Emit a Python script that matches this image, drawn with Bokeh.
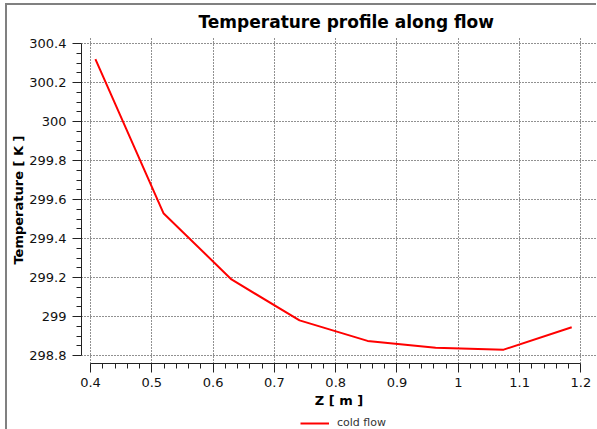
from bokeh.plotting import figure
from bokeh.layouts import column
from bokeh.models import FixedTicker, Legend, LegendItem, Range1d
from bokeh.embed import file_html
from bokeh.resources import INLINE

# ---- data ----
z_m = [0.408, 0.519, 0.630, 0.741, 0.852, 0.963, 1.074, 1.185]
temperature_k = [300.32, 299.53, 299.19, 298.98, 298.875, 298.84, 298.83, 298.945]
series_name = "cold flow"

x_ticks = [0.4, 0.5, 0.6, 0.7, 0.8, 0.9, 1.0, 1.1, 1.2]
x_tick_labels = ["0.4", "0.5", "0.6", "0.7", "0.8", "0.9", "1", "1.1", "1.2"]
y_ticks = [298.8, 299.0, 299.2, 299.4, 299.6, 299.8, 300.0, 300.2, 300.4]
y_tick_labels = ["298.8", "299", "299.2", "299.4", "299.6", "299.8", "300", "300.2", "300.4"]


def minors(ticks, n):
    out = []
    for a, b in zip(ticks[:-1], ticks[1:]):
        for k in range(1, n):
            out.append(a + (b - a) * k / n)
    return out


FONT = "DejaVu Sans"
TXT = "#111111"
RED = "#ff0000"

p = figure(width=589, height=412, output_backend="svg", toolbar_location=None,
           x_range=Range1d(0.38532, 1.22545), y_range=Range1d(298.759, 300.436),
           min_border_left=74, min_border_right=0, min_border_top=31, min_border_bottom=54,
           title="Temperature profile along flow",
           x_axis_label="Z [ m ]", y_axis_label="Temperature [ K ]")

p.outline_line_color = None
p.background_fill_color = "white"
p.border_fill_color = "white"

p.title.align = "left"
p.title.offset = 117
p.title.text_font = FONT
p.title.text_font_size = "17px"
p.title.text_font_style = "bold"
p.title.text_color = "#000000"
p.title.standoff = 9

xa = p.xaxis[0]
ya = p.yaxis[0]
xa.ticker = FixedTicker(ticks=x_ticks, minor_ticks=minors(x_ticks, 5))
ya.ticker = FixedTicker(ticks=y_ticks, minor_ticks=minors(y_ticks, 4))
xa.major_label_overrides = dict(zip(x_ticks, x_tick_labels))
ya.major_label_overrides = dict(zip(y_ticks, y_tick_labels))
xa.bounds = (x_ticks[0], x_ticks[-1])
ya.bounds = (y_ticks[0], y_ticks[-1])

for ax in (xa, ya):
    ax.axis_line_color = "#222222"
    ax.axis_line_width = 1
    ax.major_tick_line_color = "#222222"
    ax.minor_tick_line_color = "#222222"
    ax.major_tick_in = 0
    ax.major_tick_out = 9
    ax.minor_tick_in = 0
    ax.minor_tick_out = 5
    ax.major_label_text_font = FONT
    ax.major_label_text_font_size = "13px"
    ax.major_label_text_color = TXT
    ax.axis_label_text_font = FONT
    ax.axis_label_text_font_size = "13px"
    ax.axis_label_text_font_style = "bold"
    ax.axis_label_text_color = "#000000"

ya.major_label_standoff = 6
ya.axis_label_standoff = 0
xa.major_label_standoff = 5
xa.axis_label_standoff = 3

p.xgrid.ticker = FixedTicker(ticks=x_ticks)
p.ygrid.ticker = FixedTicker(ticks=y_ticks)
for g in (p.xgrid, p.ygrid):
    g.grid_line_color = "#222222"
    g.grid_line_dash = "1 2"
    g.grid_line_width = 1

r = p.line(z_m, temperature_k, line_color=RED, line_width=2)

# legend strip below the chart (its line lies outside this strip's view)
lf = figure(width=589, height=12, output_backend="svg", toolbar_location=None,
            x_range=Range1d(0, 1), y_range=Range1d(0, 1),
            min_border_left=0, min_border_right=0, min_border_top=0, min_border_bottom=0,
            x_axis_type=None, y_axis_type=None)
lf.outline_line_color = None
lf.xgrid.visible = False
lf.ygrid.visible = False
lr = lf.line(z_m, temperature_k, line_color=RED, line_width=2)
legend = Legend(items=[LegendItem(label=series_name, renderers=[lr])],
                location=(219, 0), orientation="horizontal",
                padding=0, margin=0, spacing=0,
                glyph_width=29, glyph_height=12, label_height=12,
                label_standoff=8, label_text_font=FONT,
                label_text_font_size="11px", label_text_color="#333333",
                border_line_color=None, background_fill_alpha=0)
lf.add_layout(legend)

layout = column(p, lf, spacing=0,
                styles={"margin-left": "5px", "margin-top": "3px",
                        "border-left": "2px solid #808080",
                        "border-top": "2px solid #808080"})

open("out.html", "w").write(file_html(layout, INLINE))
